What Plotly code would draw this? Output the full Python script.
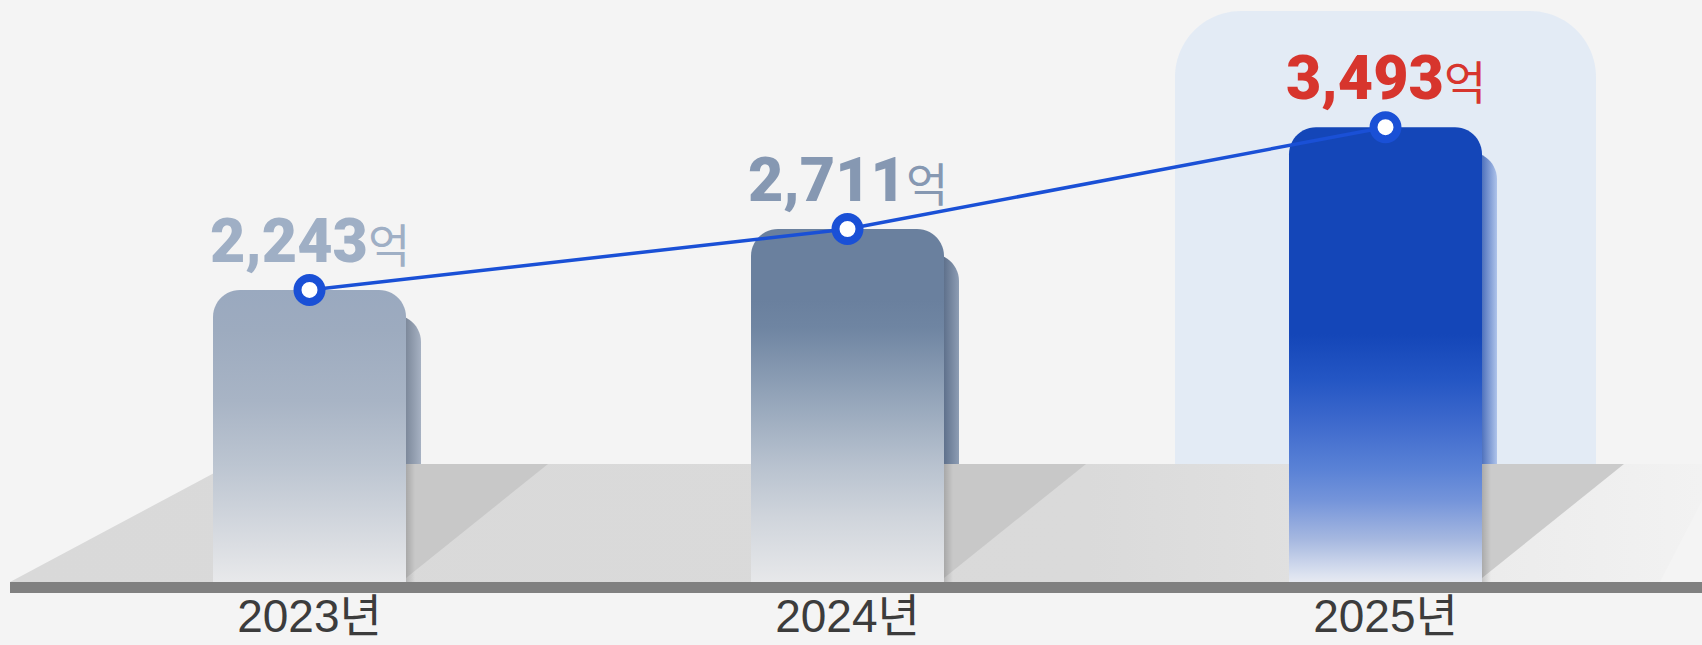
import numpy as np
import plotly.graph_objects as go

# ---------------- data ----------------
categories = ["2023년", "2024년", "2025년"]
values = [2243, 2711, 3493]
value_labels = ["2,243", "2,711", "3,493"]
unit_label = "억"

# ---------------- geometry / scale helpers ----------------
W, H = 1702, 645
MB = 63
PLOT_H = H - MB
PX_PER_VAL = 0.1302
Y_MAX = PLOT_H / PX_PER_VAL
PX_PER_CAT = 538.0
FIRST_CENTER_PX = 309.5
X_MIN = -FIRST_CENTER_PX / PX_PER_CAT
X_MAX = (W - FIRST_CENTER_PX) / PX_PER_CAT


def dx(p):
    return p / PX_PER_CAT


def dy(p):
    return p / PX_PER_VAL


def xabs(p):
    return X_MIN + p / PX_PER_CAT


BAR_HALF = 96.5     # px
BAR_R = 27          # px corner radius
BACK_DX, BACK_DY = 15, 25
FLOOR_DEPTH = 118   # px
TRI_W = 142

# styles
front_grad = [
    [[0, "#e8e9eb"], [0.13, "#dadde2"], [0.40, "#bcc5d1"], [0.62, "#a8b4c5"], [0.86, "#9dabbf"], [1, "#9aa9bf"]],
    [[0, "#e7e8ea"], [0.18, "#d0d5dc"], [0.33, "#b8c2cf"], [0.5, "#98a8bc"], [0.72, "#6f85a2"], [0.8, "#6a809e"], [1, "#6a809e"]],
    [[0, "#e6e9f1"], [0.015, "#dde3f0"], [0.093, "#a6b8e0"], [0.18, "#7494da"], [0.247, "#5a82d6"],
     [0.357, "#3c68cc"], [0.445, "#2456c4"], [0.545, "#1446b8"], [1, "#1446b8"]],
]
back_dark = ["#7d899b", "#5f718c", "#4f72bd"]
back_light = ["#a6b1c2", "#8d9db4", "#aec3ea"]
tri_color = ["#c8c8c8", "#c8c8c8", "#cbcbcb"]
label_colors = ["#9fafc5", "#8698b2", "#d7352d"]
LINE_BLUE = "#1a50d6"


def rounded_top_rect(x0, x1, y0, y1, r_px, n=14):
    rx, ry = dx(r_px), dy(r_px)
    xs = [x0, x0]
    ys = [y0, y1 - ry]
    for t in np.linspace(np.pi, np.pi / 2, n):
        xs.append(x0 + rx + rx * np.cos(t))
        ys.append(y1 - ry + ry * np.sin(t))
    for t in np.linspace(np.pi / 2, 0, n):
        xs.append(x1 - rx + rx * np.cos(t))
        ys.append(y1 - ry + ry * np.sin(t))
    xs += [x1, x0]
    ys += [y0, y0]
    return xs, ys


fig = go.Figure()
idx = list(range(len(categories)))
hl = int(np.argmax(values))

# highlight box behind the max bar
hx0, hx1 = hl - dx(210.5), hl + dx(210.5)
xs, ys = rounded_top_rect(hx0, hx1, dy(FLOOR_DEPTH), dy(PLOT_H - 11), 66, n=24)
fig.add_trace(go.Scatter(x=xs, y=ys, fill="toself", fillcolor="#e3ebf5", mode="none", hoverinfo="skip"))

# back bars
for i, v in enumerate(values):
    x0 = i - dx(BAR_HALF) + dx(BACK_DX)
    x1 = i + dx(BAR_HALF) + dx(BACK_DX)
    xs, ys = rounded_top_rect(x0, x1, 0, v - dy(BACK_DY), BAR_R)
    f0 = (2 * BAR_HALF - BACK_DX) / (2 * BAR_HALF)
    fig.add_trace(go.Scatter(
        x=xs, y=ys, fill="toself", mode="none", hoverinfo="skip",
        fillgradient=dict(type="horizontal", start=x0, stop=x1,
                          colorscale=[[0, back_dark[i]], [f0, back_dark[i]], [1, back_light[i]]]),
    ))

# floor
fx = [xabs(10), xabs(231), xabs(W + 2), xabs(W + 2), xabs(1660), xabs(10)]
fy = [0, dy(FLOOR_DEPTH), dy(FLOOR_DEPTH), dy(85), 0, 0]
fig.add_trace(go.Scatter(
    x=fx, y=fy, fill="toself", mode="none", hoverinfo="skip",
    fillgradient=dict(type="horizontal", start=xabs(0), stop=xabs(W),
                      colorscale=[[0, "#d9d9d9"], [0.64, "#dadada"], [0.76, "#e0e0e0"],
                                  [0.88, "#ececec"], [0.94, "#efefef"], [1, "#f2f2f2"]]),
))

# floor shadow triangles and soft shadow strips
for i, v in enumerate(values):
    R = i + dx(BAR_HALF)
    fig.add_trace(go.Scatter(
        x=[R, R + dx(TRI_W), R, R], y=[dy(FLOOR_DEPTH), dy(FLOOR_DEPTH), dy(4), dy(FLOOR_DEPTH)],
        fill="toself", fillcolor=tri_color[i], mode="none", hoverinfo="skip"))
    fig.add_trace(go.Scatter(
        x=[R, R + dx(9), R + dx(9), R, R], y=[0, 0, dy(FLOOR_DEPTH), dy(FLOOR_DEPTH), 0],
        fill="toself", mode="none", hoverinfo="skip",
        fillgradient=dict(type="horizontal", start=R, stop=R + dx(9),
                          colorscale=[[0, "rgba(0,0,0,0.16)"], [1, "rgba(0,0,0,0)"]])))

# front bars
for i, v in enumerate(values):
    x0, x1 = i - dx(BAR_HALF), i + dx(BAR_HALF)
    xs, ys = rounded_top_rect(x0, x1, 0, v, BAR_R)
    fig.add_trace(go.Scatter(
        x=xs, y=ys, fill="toself", mode="none", hoverinfo="skip",
        fillgradient=dict(type="vertical", start=0, stop=v, colorscale=front_grad[i]),
    ))

# line with markers
fig.add_trace(go.Scatter(
    x=idx, y=values, mode="lines+markers", hoverinfo="skip",
    line=dict(color=LINE_BLUE, width=3.5),
    marker=dict(size=24, color="white", line=dict(color=LINE_BLUE, width=8)),
))

# value labels
for i, v in enumerate(values):
    fig.add_annotation(
        x=i, y=v, xref="x", yref="y", showarrow=False, yanchor="bottom", yshift=11,
        text=f"{value_labels[i]}<span style='font-size:46px;font-weight:400'>{unit_label}</span>",
        font=dict(family="Roboto, Noto Sans CJK KR", size=61, weight=900, color=label_colors[i]),
    )

# floor line
fig.add_shape(type="rect", xref="paper", yref="paper", x0=10 / W, x1=1, y0=-11 / PLOT_H, y1=0,
              fillcolor="#808080", line=dict(width=0), layer="above")

fig.update_layout(
    width=W, height=H,
    margin=dict(l=0, r=0, t=0, b=MB, autoexpand=False),
    paper_bgcolor="#f4f4f4", plot_bgcolor="#f4f4f4",
    showlegend=False,
    xaxis=dict(range=[X_MIN, X_MAX], tickvals=idx, ticktext=categories, showgrid=False,
               zeroline=False, showline=False, ticks="", fixedrange=True, ticklabelstandoff=3,
               automargin=False,
               tickfont=dict(family="Liberation Sans, Noto Sans CJK KR", size=46, color="#3c3c3c")),
    yaxis=dict(range=[0, Y_MAX], visible=False, fixedrange=True, automargin=False),
)

fig.write_html("out.html", config={"displayModeBar": False},
               post_script="document.body.style.margin='0';document.body.style.overflow='hidden';")
